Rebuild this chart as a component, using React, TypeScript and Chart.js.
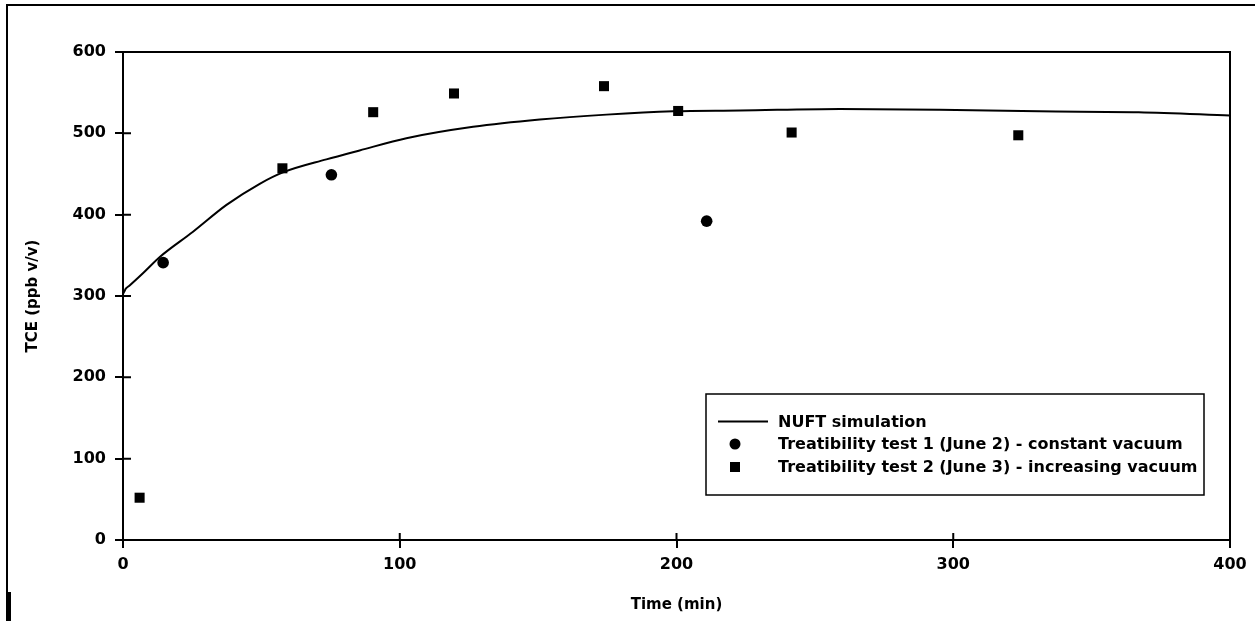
import React, { useEffect, useRef } from 'react';
import { Chart, registerables } from 'chart.js';

Chart.register(...registerables);

// NUFT simulation curve (time in min, TCE in ppb v/v)
const simTime = [0, 0, 1, 2.4, 7.2, 13.3, 25.3, 37.4, 49.4, 57.8, 73.5, 85.5, 102.4, 126.5, 150.6, 174.7, 198.8, 223, 259, 295, 331, 367, 400];
const simTCE = [165, 303, 309, 313, 328, 348, 379, 412, 438, 452, 468, 479, 494, 508, 517, 523, 527, 528, 530, 529, 527, 526, 522];

// Treatibility test 1 (circles)
const test1Time = [14.5, 75.3, 210.9];
const test1TCE = [341, 449, 392];

// Treatibility test 2 (squares)
const test2Time = [6, 57.6, 90.4, 119.6, 173.8, 200.6, 241.6, 323.5];
const test2TCE = [52, 457, 526, 549, 558, 527.5, 501, 497.6];

const seriesLabels = [
  'NUFT simulation',
  'Treatibility test 1 (June 2) - constant vacuum',
  'Treatibility test 2 (June 3) - increasing vacuum',
];
const xTitle = 'Time (min)';
const yTitle = 'TCE (ppb v/v)';
const xMin = 0, xMax = 400, xStep = 100;
const yMin = 0, yMax = 600, yStep = 100;

const FONT = 'DejaVu Sans';

const decorPlugin = {
  id: 'decor',
  afterDraw(chart: any) {
    const ctx = chart.ctx;
    const { left, right, top, bottom } = chart.chartArea;
    const xs = chart.scales.x;
    const ys = chart.scales.y;
    ctx.save();
    ctx.strokeStyle = '#000';
    ctx.lineWidth = 2;
    // outer frame
    ctx.beginPath();
    ctx.moveTo(7, 621);
    ctx.lineTo(7, 5);
    ctx.lineTo(1255, 5);
    ctx.stroke();
    ctx.lineWidth = 4;
    ctx.beginPath();
    ctx.moveTo(9, 592);
    ctx.lineTo(9, 621);
    ctx.stroke();
    // top & right plot border
    ctx.lineWidth = 2;
    ctx.beginPath();
    ctx.moveTo(left - 8, top);
    ctx.lineTo(right, top);
    ctx.lineTo(right, bottom);
    ctx.stroke();
    // inner tick marks
    ctx.beginPath();
    xs.ticks.forEach((t: any) => {
      const px = xs.getPixelForValue(t.value);
      ctx.moveTo(px, bottom);
      ctx.lineTo(px, bottom - 7);
    });
    ys.ticks.forEach((t: any) => {
      const py = ys.getPixelForValue(t.value);
      ctx.moveTo(left, py);
      ctx.lineTo(left + 8, py);
    });
    ctx.stroke();

    // legend box
    const bx = 706, by = 394, bw = 498, bh = 101;
    ctx.fillStyle = '#fff';
    ctx.fillRect(bx, by, bw, bh);
    ctx.lineWidth = 1.5;
    ctx.strokeRect(bx, by, bw, bh);
    const rows = [421.5, 444, 467];
    const ds = chart.data.datasets;
    ctx.font = `bold 16px "${FONT}"`;
    ctx.fillStyle = '#000';
    ctx.textBaseline = 'middle';
    ctx.textAlign = 'left';
    // line sample
    ctx.lineWidth = 2;
    ctx.beginPath();
    ctx.moveTo(718, rows[0]);
    ctx.lineTo(768, rows[0]);
    ctx.stroke();
    // circle sample
    ctx.beginPath();
    ctx.arc(735, rows[1], 5.5, 0, Math.PI * 2);
    ctx.fill();
    // square sample
    ctx.fillRect(730, rows[2] - 5, 10, 10);
    ds.forEach((d: any, i: number) => {
      ctx.fillText(d.label, 778, rows[i] + 1);
    });
    ctx.restore();
  },
};

export default function App() {
  const ref = useRef<HTMLCanvasElement | null>(null);
  useEffect(() => {
    if (!ref.current) return;
    const chart = new Chart(ref.current, {
      type: 'scatter',
      data: {
        datasets: [
          {
            label: seriesLabels[0],
            data: simTime.map((t, i) => ({ x: t, y: simTCE[i] })),
            showLine: true,
            borderColor: '#000',
            borderWidth: 2,
            pointRadius: 0,
            cubicInterpolationMode: 'monotone',
            clip: false,
            fill: false,
          },
          {
            label: seriesLabels[1],
            data: test1Time.map((t, i) => ({ x: t, y: test1TCE[i] })),
            pointStyle: 'circle',
            pointRadius: 5.8,
            backgroundColor: '#000',
            borderColor: '#000',
            borderWidth: 0,
          },
          {
            label: seriesLabels[2],
            data: test2Time.map((t, i) => ({ x: t, y: test2TCE[i] })),
            pointStyle: 'rect',
            pointRadius: 7.1,
            backgroundColor: '#000',
            borderColor: '#000',
            borderWidth: 0,
          },
        ],
      },
      options: {
        responsive: false,
        animation: false,
        events: [],
        layout: { padding: { top: 52, right: 25, left: 0, bottom: 0 } },
        plugins: { legend: { display: false }, tooltip: { enabled: false }, title: { display: false } },
        scales: {
          x: {
            type: 'linear',
            min: xMin,
            max: xMax,
            ticks: {
              stepSize: xStep,
              color: '#000',
              padding: 7,
              font: { family: FONT, weight: 'bold', size: 16 },
            },
            grid: { drawOnChartArea: false, drawTicks: true, tickLength: 8, color: '#000', lineWidth: 2 },
            border: { display: true, color: '#000', width: 2 },
            title: {
              display: true,
              text: xTitle,
              color: '#000',
              padding: 7,
              font: { family: FONT, weight: 'bold', size: 15 },
            },
            afterFit(s: any) {
              s.height = 81;
            },
          },
          y: {
            type: 'linear',
            min: yMin,
            max: yMax,
            ticks: {
              stepSize: yStep,
              color: '#000',
              padding: 9,
              font: { family: FONT, weight: 'bold', size: 16 },
            },
            grid: { drawOnChartArea: false, drawTicks: true, tickLength: 8, color: '#000', lineWidth: 2 },
            border: { display: true, color: '#000', width: 2 },
            title: {
              display: true,
              text: yTitle,
              color: '#000',
              padding: 24,
              font: { family: FONT, weight: 'bold', size: 15 },
            },
            afterFit(s: any) {
              s.width = 123;
            },
          },
        },
      },
      plugins: [decorPlugin],
    });
    return () => chart.destroy();
  }, []);
  return (
    <div style={{ position: 'absolute', left: 0, top: 0, width: 1255, height: 621, background: '#fff' }}>
      <canvas ref={ref} width={1255} height={621} style={{ display: 'block', width: 1255, height: 621 }} />
    </div>
  );
}
